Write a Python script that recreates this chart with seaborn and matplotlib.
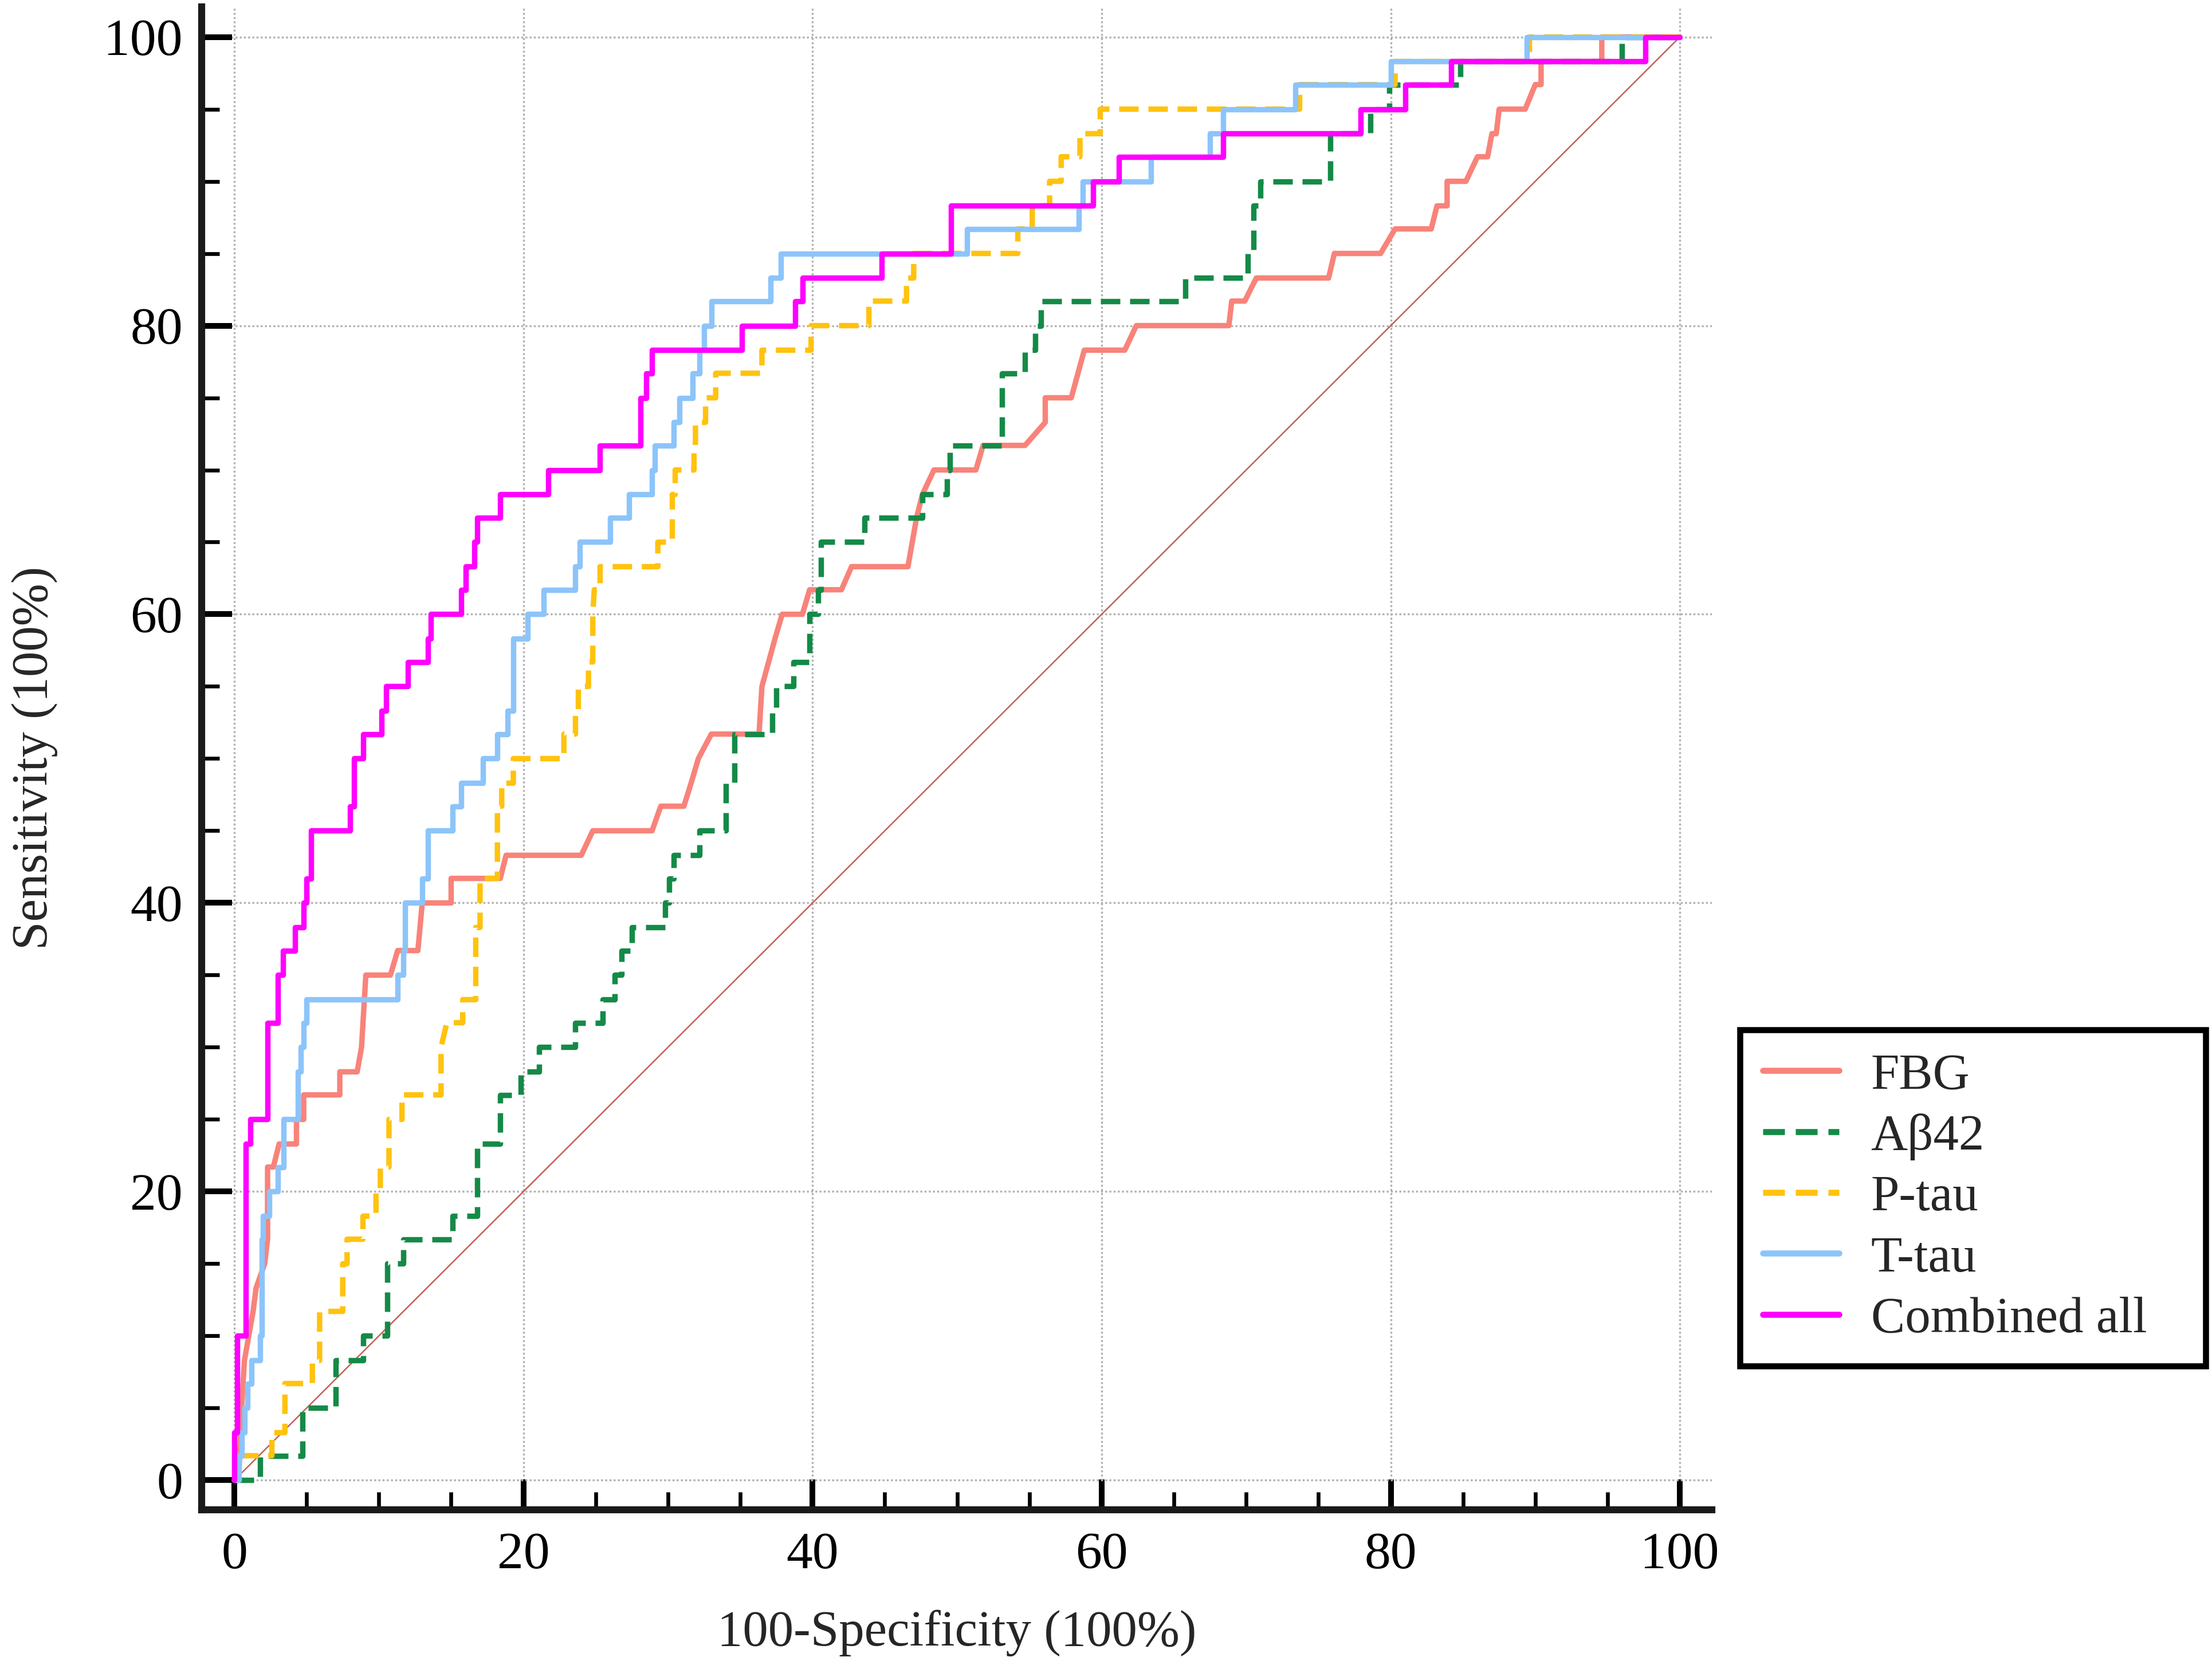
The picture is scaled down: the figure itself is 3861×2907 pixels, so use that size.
import seaborn as sns
import matplotlib.pyplot as plt
from matplotlib.ticker import MultipleLocator
import pandas as pd

# ROC step curves (100-Specificity, Sensitivity in %)
fbg_x = [0, 0.3, 0.5, 0.7, 1.0, 1.3, 1.5, 2.1, 2.3, 2.3, 2.7, 3.1, 4.3, 4.3, 4.8, 4.8, 7.3, 7.3, 8.5, 8.8,
         9.1, 10.8, 11.3, 12.7, 13.0, 15.0, 15.0, 18.4, 18.8, 24.0, 24.8, 28.9, 29.5, 31.1, 31.6, 32.1, 33.0,
         36.3, 36.5, 37.4, 37.9, 39.3, 39.8, 42.0, 42.7, 46.6, 47.2, 47.6, 48.4, 51.3, 51.8, 54.7, 56.1, 56.1,
         57.9, 58.8, 61.6, 62.4, 68.8, 69.0, 69.9, 70.7, 75.7, 76.1, 79.3, 80.3, 82.8, 83.2, 83.9, 83.9, 85.2,
         86.0, 86.7, 87.0, 87.3, 87.5, 89.3, 90.0, 90.4, 90.4, 94.6, 94.6, 100]
fbg_y = [0, 0, 5, 8.3, 10, 11.7, 13.3, 15, 16.7, 21.7, 21.7, 23.3, 23.3, 25, 25, 26.7, 26.7, 28.3, 28.3, 30,
         35, 35, 36.7, 36.7, 40, 40, 41.7, 41.7, 43.3, 43.3, 45, 45, 46.7, 46.7, 48.3, 50, 51.7,
         51.7, 55, 58.3, 60, 60, 61.7, 61.7, 63.3, 63.3, 66.7, 68.3, 70, 70, 71.7, 71.7, 73.3, 75,
         75, 78.3, 78.3, 80, 80, 81.7, 81.7, 83.3, 83.3, 85, 85, 86.7, 86.7, 88.3, 88.3, 90, 90,
         91.7, 91.7, 93.3, 93.3, 95, 95, 96.7, 96.7, 98.3, 98.3, 100, 100]

ab42_x = [0, 1.8, 1.8, 4.7, 4.7, 7.0, 7.0, 8.9, 8.9, 10.6, 10.6, 11.7, 11.7, 15.1, 15.1, 16.8, 16.8, 18.4,
          18.4, 19.8, 19.8, 21.1, 21.1, 23.6, 23.6, 25.5, 25.5, 26.3, 26.3, 26.8, 26.8, 27.5, 27.5, 29.8,
          29.8, 30.1, 30.1, 30.4, 30.4, 32.2, 32.2, 34.0, 34.0, 34.6, 34.6, 37.2, 37.2, 37.5, 37.5, 38.7,
          38.7, 39.8, 39.8, 40.4, 40.4, 40.6, 40.6, 43.6, 43.6, 47.6, 47.6, 49.3, 49.3, 49.5, 49.5, 53.1,
          53.1, 54.7, 54.7, 55.4, 55.4, 55.8, 55.8, 65.8, 65.8, 70.1, 70.1, 70.5, 70.5, 71.0, 71.0, 75.8,
          75.8, 78.6, 78.6, 79.9, 79.9, 84.8, 84.8, 96.0, 96.0, 100]
ab42_y = [0, 0, 1.7, 1.7, 5, 5, 8.3, 8.3, 10, 10, 15, 15, 16.7, 16.7, 18.3, 18.3, 23.3, 23.3,
          26.7, 26.7, 28.3, 28.3, 30, 30, 31.7, 31.7, 33.3, 33.3, 35, 35, 36.7, 36.7, 38.3, 38.3,
          40, 40, 41.7, 41.7, 43.3, 43.3, 45, 45, 48.3, 48.3, 51.7, 51.7, 53.3, 53.3, 55, 55,
          56.7, 56.7, 60, 60, 61.7, 61.7, 65, 65, 66.7, 66.7, 68.3, 68.3, 70, 70, 71.7, 71.7,
          76.7, 76.7, 78.3, 78.3, 80, 80, 81.7, 81.7, 83.3, 83.3, 85, 85, 88.3, 88.3, 90, 90,
          93.3, 93.3, 95, 95, 96.7, 96.7, 98.3, 98.3, 100, 100]

ptau_x = [0, 0.3, 0.3, 2.6, 2.6, 3.5, 3.5, 5.4, 5.4, 5.9, 5.9, 7.5, 7.5, 7.8, 7.8, 8.9, 8.9, 9.8, 9.8, 10.1,
          10.1, 10.7, 10.7, 11.6, 11.6, 14.3, 14.3, 14.7, 15.8, 15.8, 16.7, 16.7, 17.0, 17.0, 18.2, 18.2,
          18.5, 18.5, 19.3, 19.3, 22.8, 22.8, 23.6, 23.6, 23.8, 23.8, 24.5, 24.5, 24.8, 24.8, 24.9, 25.3,
          25.3, 29.3, 29.3, 30.3, 30.3, 30.5, 30.5, 31.8, 31.8, 31.9, 31.9, 32.6, 32.6, 33.3, 33.3, 36.5,
          36.5, 39.9, 39.9, 43.9, 43.9, 46.5, 46.5, 47.0, 47.0, 54.2, 54.2, 55.2, 55.2, 56.4, 56.4, 57.2,
          57.2, 58.5, 58.5, 59.9, 59.9, 73.7, 73.7, 80.3, 80.3, 89.6, 89.6, 100]
ptau_y = [0, 0, 1.7, 1.7, 3.3, 3.3, 6.7, 6.7, 8.3, 8.3, 11.7, 11.7, 15, 15, 16.7, 16.7, 18.3, 18.3, 20, 20,
          21.7, 21.7, 25, 25, 26.7, 26.7, 30, 31.7, 31.7, 33.3, 33.3, 38.3, 38.3, 41.7, 41.7, 46.7,
          46.7, 48.3, 48.3, 50, 50, 51.7, 51.7, 53.3, 53.3, 55, 55, 56.7, 56.7, 60, 61.7, 61.7,
          63.3, 63.3, 65, 65, 68.3, 68.3, 70, 70, 71.7, 71.7, 73.3, 73.3, 75, 75, 76.7, 76.7,
          78.3, 78.3, 80, 80, 81.7, 81.7, 83.3, 83.3, 85, 85, 86.7, 86.7, 88.3, 88.3, 90, 90,
          91.7, 91.7, 93.3, 93.3, 95, 95, 96.7, 96.7, 98.3, 98.3, 100, 100]

ttau_x = [0, 0.3, 0.3, 0.5, 0.5, 0.7, 0.7, 0.9, 0.9, 1.2, 1.2, 1.8, 1.8, 1.9, 1.9, 2.0, 2.0, 2.4, 2.4, 3.0,
          3.0, 3.4, 3.4, 4.4, 4.4, 4.6, 4.6, 4.8, 4.8, 5.0, 5.0, 11.3, 11.3, 11.7, 11.7, 11.8, 11.8, 13.0,
          13.0, 13.4, 13.4, 15.1, 15.1, 15.7, 15.7, 17.2, 17.2, 18.2, 18.2, 18.9, 18.9, 19.3, 19.3, 20.3,
          20.3, 21.4, 21.4, 23.6, 23.6, 23.9, 23.9, 26.0, 26.0, 27.3, 27.3, 28.9, 28.9, 29.1, 29.1, 30.4,
          30.4, 30.8, 30.8, 31.7, 31.7, 32.2, 32.2, 32.5, 32.5, 33.0, 33.0, 37.1, 37.1, 37.8, 37.8, 50.7,
          50.7, 58.4, 58.4, 58.7, 58.7, 63.4, 63.4, 67.5, 67.5, 68.4, 68.4, 73.4, 73.4, 80.0, 80.0, 89.4,
          89.4, 100]
ttau_y = [0, 0, 1.7, 1.7, 3.3, 3.3, 5, 5, 6.7, 6.7, 8.3, 8.3, 10, 10, 16.7, 16.7, 18.3, 18.3, 20, 20,
          21.7, 21.7, 25, 25, 28.3, 28.3, 30, 30, 31.7, 31.7, 33.3, 33.3, 35, 35, 36.7, 36.7, 40, 40,
          41.7, 41.7, 45, 45, 46.7, 46.7, 48.3, 48.3, 50, 50, 51.7, 51.7, 53.3, 53.3, 58.3, 58.3,
          60, 60, 61.7, 61.7, 63.3, 63.3, 65, 65, 66.7, 66.7, 68.3, 68.3, 70, 70, 71.7, 71.7,
          73.3, 73.3, 75, 75, 76.7, 76.7, 78.3, 78.3, 80, 80, 81.7, 81.7, 83.3, 83.3, 85, 85,
          86.7, 86.7, 88.3, 88.3, 90, 90, 91.7, 91.7, 93.3, 93.3, 95, 95, 96.7, 96.7, 98.3, 98.3,
          100, 100]

comb_x = [0, 0, 0.2, 0.2, 0.8, 0.8, 1.1, 1.1, 2.3, 2.3, 3.0, 3.0, 3.35, 3.35, 4.2, 4.2, 4.8, 4.8, 5.0, 5.0,
          5.3, 5.3, 8.0, 8.0, 8.3, 8.3, 8.9, 8.9, 10.2, 10.2, 10.5, 10.5, 12.0, 12.0, 13.4, 13.4, 13.6,
          13.6, 15.7, 15.7, 16.0, 16.0, 16.6, 16.6, 16.8, 16.8, 18.4, 18.4, 21.7, 21.7, 25.3, 25.3, 28.1,
          28.1, 28.5, 28.5, 28.9, 28.9, 35.1, 35.1, 38.8, 38.8, 39.3, 39.3, 44.8, 44.8, 49.6, 49.6, 59.4,
          59.4, 61.2, 61.2, 68.4, 68.4, 77.9, 77.9, 81.0, 81.0, 84.2, 84.2, 97.6, 97.6, 100]
comb_y = [0, 3.3, 3.3, 10, 10, 23.3, 23.3, 25, 25, 31.7, 31.7, 35, 35, 36.7, 36.7, 38.3, 38.3, 40, 40, 41.7,
          41.7, 45, 45, 46.7, 46.7, 50, 50, 51.7, 51.7, 53.3, 53.3, 55, 55, 56.7, 56.7, 58.3, 58.3,
          60, 60, 61.7, 61.7, 63.3, 63.3, 65, 65, 66.7, 66.7, 68.3, 68.3, 70, 70, 71.7, 71.7,
          75, 75, 76.7, 76.7, 78.3, 78.3, 80, 80, 81.7, 81.7, 83.3, 83.3, 85, 85, 88.3, 88.3,
          90, 90, 91.7, 91.7, 93.3, 93.3, 95, 95, 96.7, 96.7, 98.3, 98.3, 100, 100]

ref_x = [0, 100]
ref_y = [0, 100]

names = ["FBG", "A\u03b242", "P-tau", "T-tau", "Combined all"]
colors = ["#f8837a", "#148a47", "#ffc20e", "#8cc4fa", "#ff00ff"]

sns.set_theme(style="white")
plt.rcParams["font.family"] = ["Liberation Serif", "DejaVu Serif"]

fig = plt.figure(figsize=(19.31, 14.535), dpi=200)
ax = fig.add_axes([0.0912, 0.0932, 0.6824, 0.9028])

sns.lineplot(x=ref_x, y=ref_y, ax=ax, color="#c0605a", linewidth=0.9, sort=False, estimator=None)

curves = [(fbg_x, fbg_y, "-"), (ab42_x, ab42_y, (0, (3.6, 1.8))), (ptau_x, ptau_y, (0, (3.6, 1.8))),
          (ttau_x, ttau_y, "-"), (comb_x, comb_y, "-")]
for (cx, cy, ls), name, c in zip(curves, names, colors):
    df = pd.DataFrame({"x": cx, "y": cy})
    sns.lineplot(data=df, x="x", y="y", ax=ax, color=c, linewidth=3.4, linestyle=ls,
                 sort=False, estimator=None, label=name)

if ax.get_legend() is not None:
    ax.get_legend().remove()

ax.set_xlim(-2.25, 102.2)
ax.set_ylim(-2.05, 102.1)
ax.set_xticks(range(0, 101, 20))
ax.set_yticks(range(0, 101, 20))
ax.xaxis.set_minor_locator(MultipleLocator(5))
ax.yaxis.set_minor_locator(MultipleLocator(5))
ax.tick_params(which="both", bottom=True, left=True, top=False, right=False)
ax.tick_params(which="major", direction="in", length=19, width=3.6, labelsize=33, pad=12, colors="black")
ax.tick_params(which="minor", direction="in", length=11, width=2.4, colors="black")
ax.tick_params(axis="x", which="major", pad=14)
ax.grid(True, which="major", linestyle=(0, (1, 1.2)), color="#b0b0b0", linewidth=1.2)

for s in ["top", "right"]:
    ax.spines[s].set_visible(False)
for s in ["left", "bottom"]:
    ax.spines[s].set_linewidth(4.4)
    ax.spines[s].set_color("#1a1a1a")

ax.set_xlabel("100-Specificity (100%)", fontsize=32, labelpad=19)
ax.set_ylabel("Sensitivity (100%)", fontsize=32, labelpad=29)

handles, labels = ax.get_legend_handles_labels()
leg = fig.legend(handles[-5:], labels[-5:], loc="upper left",
                 bbox_to_anchor=(0.7864, 0.1780, 0.2105, 0.2034), mode="expand",
                 fontsize=32, frameon=True, fancybox=False, edgecolor="black", framealpha=1,
                 handlelength=1.5, handletextpad=0.62, labelspacing=0.28, borderpad=0.45,
                 borderaxespad=0)
leg.get_frame().set_linewidth(3.8)
for h in leg.get_lines():
    h.set_linewidth(3.8)

fig.savefig("out.png", dpi=200)
